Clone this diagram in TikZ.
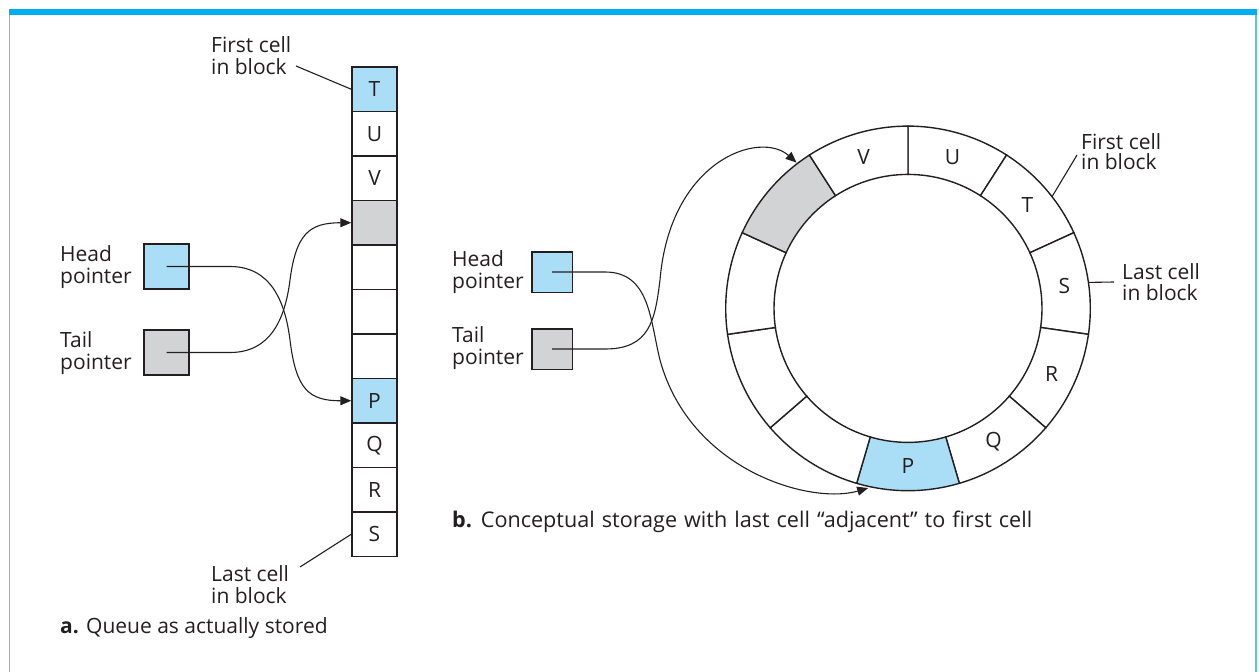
\documentclass[tikz,border=0pt]{standalone}
\usepackage{fontspec}
\setmainfont{Open Sans}
\usetikzlibrary{arrows.meta,calc}
\definecolor{ink}{RGB}{35,31,32}
\definecolor{cellblue}{RGB}{170,222,246}
\definecolor{cellgray}{RGB}{209,211,212}
\definecolor{topblue}{RGB}{0,174,239}
\definecolor{sideblue}{RGB}{90,197,240}
\tikzset{
  txt/.style={font=\fontsize{21}{22}\selectfont, text=ink, inner sep=0pt},
  cell/.style={draw=ink, line width=1.5pt, minimum width=45pt, minimum height=44.5pt, inner sep=0pt, txt},
  ptrbox/.style={draw=ink, line width=1.5pt, inner sep=0pt},
  conn/.style={draw=ink, line width=1.1pt},
  arr/.style={conn, -{Triangle[length=11pt,width=9pt]}},
  lead/.style={draw=ink, line width=1.1pt},
  ring/.style={draw=ink, line width=1.4pt}
}
\begin{document}
\begin{tikzpicture}[x=1pt,y=-1pt]
\useasboundingbox (0,0) rectangle (1259,672);
% frame
\fill[topblue] (9,8.7) rectangle (1257,15.3);
\draw[sideblue, line width=1.5pt] (9.5,15) -- (9.5,672);
\draw[sideblue, line width=2pt] (1256,15) -- (1256,672);

% ---------- part a ----------
\foreach \i/\t/\f in {1/T/cellblue,2/U/white,3/V/white,4/{}/cellgray,5/{}/white,6/{}/white,7/{}/white,8/P/cellblue,9/Q/white,10/R/white,11/S/white}{
  \node[cell, fill=\f] (c\i) at (374.5,{67+44.5*(\i-0.5)}) {\t};
}
\node[txt, anchor=west, align=left] (fcL) at (211,56) {First cell\\in block};
\node[txt, anchor=west, align=left] (lcL) at (211,585) {Last cell\\in block};
\coordinate (fcLend) at (296,66);
\coordinate (lcLend) at (300,567);
\draw[lead] (fcLend) -- (c1.west);
\draw[lead] (lcLend) -- (c11.west);

\node[txt, anchor=west, align=left] (hpLt) at (60,267) {Head\\pointer};
\node[txt, anchor=west, align=left] (tpLt) at (60,353) {Tail\\pointer};
\node[ptrbox, fill=cellblue, minimum size=45pt] (hpL) at (166.5,266.5) {};
\node[ptrbox, fill=cellgray, minimum size=45pt] (tpL) at (166.5,352.5) {};

\draw[arr] (hpL.center) -- (230,266.5) .. controls (270,266.5) and (285,300) .. (290,340)
  .. controls (296,390) and ($(c8.west)+(-42,0)$) .. (c8.west);
\draw[arr] (tpL.center) -- (230,352.5) .. controls (270,352.5) and (285,320) .. (290,280)
  .. controls (296,234) and ($(c4.west)+(-42,0)$) .. (c4.west);

\node[txt, anchor=west] (capA) at (60,628) {\textbf{a.} Queue as actually stored};

% ---------- part b ----------
\coordinate (C) at (908,308.4);
\begin{scope}[shift={(C)}, x=1pt, y=1pt]
  \def\da{32.7273}
  \foreach \k/\f in {0/white,1/white,2/white,3/white,4/white,5/cellblue,6/white,7/white,8/white,9/cellgray,10/white}{
    \pgfmathsetmacro{\aone}{90-\k*\da}
    \pgfmathsetmacro{\atwo}{90-(\k+1)*\da}
    \filldraw[ring, fill=\f] (\aone:134) -- (\aone:182.3) arc[start angle=\aone, end angle=\atwo, radius=182.3]
      -- (\atwo:134) arc[start angle=\atwo, end angle=\aone, radius=134] -- cycle;
  }
  \node[txt] (rU) at (73.64:158) {U};
  \node[txt] (rT) at (40.91:158) {T};
  \node[txt] (rS) at (8.18:158) {S};
  \node[txt] (rR) at (-24.55:158) {R};
  \node[txt] (rQ) at (-57.27:158) {Q};
  \node[txt] (rP) at (-90:158) {P};
  \node[txt] (rV) at (106.36:158) {V};
  \coordinate (gtip) at (127.4:183.5);
  \coordinate (ptip) at (-102.5:184);
  \coordinate (fcRpt) at (37.8:182.3);
  \coordinate (lcRpt) at (8.2:182.3);
\end{scope}

\node[txt, anchor=west, align=left, font=\fontsize{21}{20}\selectfont] (fcR) at (1081,152) {First cell\\in block};
\node[txt, anchor=west, align=left, font=\fontsize{21}{21}\selectfont] (lcR) at (1122,282) {Last cell\\in block};
\coordinate (fcRend) at (1077,155);
\coordinate (lcRend) at (1114,282);
\draw[lead] (fcRpt) -- (fcRend);
\draw[lead] (lcRpt) -- (lcRend);

\node[txt, anchor=west, align=left] (hpRt) at (452,272) {Head\\pointer};
\node[txt, anchor=west, align=left] (tpRt) at (452,348) {Tail\\pointer};
\node[ptrbox, fill=cellblue, minimum size=40.5pt] (hpR) at (552,272) {};
\node[ptrbox, fill=cellgray, minimum size=40.5pt] (tpR) at (552,349) {};

\draw[arr] (hpR.center) -- (605,272) .. controls (650,272) and (650,320) .. (660,360)
  .. controls (690,470) and (810,505) .. (ptip);
\draw[arr] (tpR.center) -- (605,349) .. controls (650,349) and (655,320) .. (660,280)
  .. controls (670,160) and (760,130) .. (gtip);

\node[txt, anchor=west, font=\fontsize{21.6}{22}\selectfont] (capB) at (452,522) {\spaceskip=7pt plus 1pt\relax\textbf{b.} Conceptual storage with last cell “adjacent” to first cell};
\end{tikzpicture}
\end{document}
